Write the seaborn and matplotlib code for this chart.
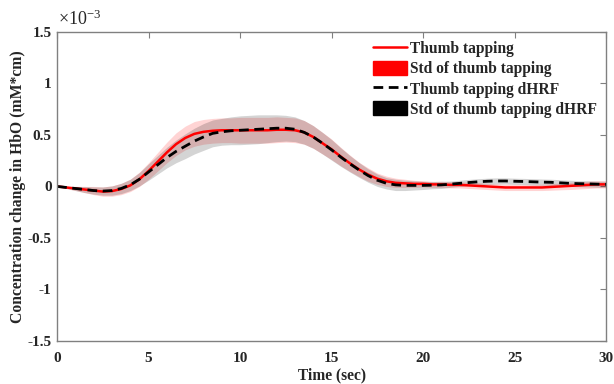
import numpy as np
import pandas as pd
import matplotlib
matplotlib.use("Agg")
import matplotlib.pyplot as plt
import seaborn as sns
from matplotlib.patches import Patch
from matplotlib.lines import Line2D

# Data (units of 1e-3 mM*cm), sampled every 0.5 s from 0 to 30 s
time = [i * 0.5 for i in range(61)]
thumb_mean = [0, -0.01, -0.02, -0.03, -0.04, -0.05, -0.045, -0.025, 0.01, 0.07,
              0.15, 0.24, 0.33, 0.41, 0.47, 0.51, 0.53, 0.54, 0.545, 0.545,
              0.545, 0.545, 0.545, 0.545, 0.55, 0.55, 0.545, 0.525, 0.48, 0.42,
              0.36, 0.29, 0.225, 0.165, 0.115, 0.075, 0.05, 0.035, 0.03, 0.025,
              0.025, 0.02, 0.02, 0.015, 0.015, 0.01, 0.005, 0.0, -0.005, -0.01,
              -0.01, -0.01, -0.01, -0.01, -0.005, 0.0, 0.005, 0.01, 0.015, 0.02,
              0.02]
thumb_std = [0.0, 0.01, 0.02, 0.03, 0.04, 0.045, 0.05, 0.055, 0.06, 0.07,
             0.08, 0.09, 0.10, 0.11, 0.115, 0.12, 0.12, 0.12, 0.12, 0.12,
             0.125, 0.125, 0.125, 0.125, 0.125, 0.12, 0.12, 0.115, 0.11, 0.105,
             0.10, 0.09, 0.08, 0.07, 0.065, 0.055, 0.05, 0.045, 0.04, 0.035,
             0.03, 0.03, 0.03, 0.03, 0.03, 0.03, 0.03, 0.03, 0.03, 0.03,
             0.03, 0.03, 0.03, 0.03, 0.032, 0.033, 0.035, 0.035, 0.035, 0.035,
             0.035]
dhrf_mean = [0, -0.01, -0.02, -0.03, -0.04, -0.045, -0.04, -0.02, 0.015, 0.07,
             0.14, 0.21, 0.28, 0.34, 0.39, 0.44, 0.48, 0.515, 0.53, 0.54,
             0.545, 0.55, 0.555, 0.56, 0.565, 0.565, 0.555, 0.525, 0.48, 0.42,
             0.355, 0.285, 0.22, 0.16, 0.105, 0.06, 0.03, 0.015, 0.01, 0.01,
             0.01, 0.012, 0.015, 0.022, 0.03, 0.038, 0.045, 0.05, 0.053, 0.053,
             0.05, 0.048, 0.045, 0.042, 0.04, 0.035, 0.03, 0.027, 0.025, 0.022,
             0.02]
dhrf_std = [0.0, 0.01, 0.02, 0.03, 0.035, 0.04, 0.045, 0.05, 0.055, 0.065,
            0.08, 0.09, 0.10, 0.11, 0.12, 0.125, 0.13, 0.13, 0.13, 0.135,
            0.14, 0.14, 0.14, 0.135, 0.13, 0.125, 0.12, 0.115, 0.11, 0.105,
            0.10, 0.09, 0.08, 0.072, 0.065, 0.06, 0.055, 0.055, 0.05, 0.045,
            0.04, 0.035, 0.035, 0.03, 0.03, 0.03, 0.03, 0.03, 0.03, 0.03,
            0.03, 0.03, 0.03, 0.03, 0.03, 0.03, 0.03, 0.03, 0.03, 0.03,
            0.03]

legend_labels = ["Thumb tapping", "Std of thumb tapping",
                 "Thumb tapping dHRF", "Std of thumb tapping dHRF"]

sns.set_style("white")
plt.rcParams['font.family'] = ['Liberation Serif', 'DejaVu Serif']
plt.rcParams['axes.unicode_minus'] = False
plt.rcParams['mathtext.fontset'] = 'custom'
plt.rcParams['mathtext.rm'] = 'Liberation Serif'
plt.rcParams['mathtext.default'] = 'regular'

df = pd.DataFrame({"t": time, "thumb": thumb_mean, "dhrf": dhrf_mean})
tm = np.array(thumb_mean); ts = np.array(thumb_std)
dm = np.array(dhrf_mean); ds = np.array(dhrf_std)

fig, ax = plt.subplots(figsize=(6.14, 3.84), dpi=100)
fig.subplots_adjust(left=0.093, right=0.987, top=0.917, bottom=0.112)

ax.fill_between(time, tm - ts, tm + ts, color="red", alpha=0.17, linewidth=0)
ax.fill_between(time, dm - ds, dm + ds, color="black", alpha=0.17, linewidth=0)
sns.lineplot(data=df, x="t", y="thumb", ax=ax, color="red", linewidth=1.8)
sns.lineplot(data=df, x="t", y="dhrf", ax=ax, color="black", linewidth=2.0,
             linestyle=(0, (3.5, 2)))

ax.set_xlim(0, 30)
ax.set_ylim(-1.5, 1.5)
ax.set_xticks([0, 5, 10, 15, 20, 25, 30])
ax.set_yticks([-1.5, -1, -0.5, 0, 0.5, 1, 1.5])
ax.set_yticklabels(["-1.5", "-1", "-0.5", "0", "0.5", "1", "1.5"])
ax.tick_params(direction="in", top=True, right=True, length=4, width=0.8,
               color="#808080", labelsize=11)
ax.tick_params(axis="x", pad=8)
ax.tick_params(axis="y", pad=4)
for lab in ax.get_xticklabels() + ax.get_yticklabels():
    lab.set_fontweight("bold")
for sp in ax.spines.values():
    sp.set_color("#808080")
    sp.set_linewidth(1.0)

ax.set_xlabel("Time (sec)", fontsize=11.2, fontweight="bold", labelpad=2)
ax.set_ylabel("Concentration change in HbO (mM*cm)", fontsize=11.3,
              fontweight="bold", labelpad=1)
ax.text(0.002, 1.008, r"$\times10^{-3}$", transform=ax.transAxes, fontsize=13,
        ha="left", va="bottom", fontweight="normal")

handles = [Line2D([0], [0], color="red", linewidth=1.8),
           Patch(facecolor="red", edgecolor="red"),
           Line2D([0], [0], color="black", linewidth=2.0, linestyle=(0, (3.5, 2))),
           Patch(facecolor="black", edgecolor="black")]
ax.legend(handles, legend_labels, loc="upper right", bbox_to_anchor=(0.995, 0.991),
          frameon=False, prop={"weight": "bold", "size": 11.2},
          handlelength=2.2, handleheight=1.0, handletextpad=0.2,
          labelspacing=0.25, borderaxespad=0)

fig.savefig("out.png", dpi=100)
